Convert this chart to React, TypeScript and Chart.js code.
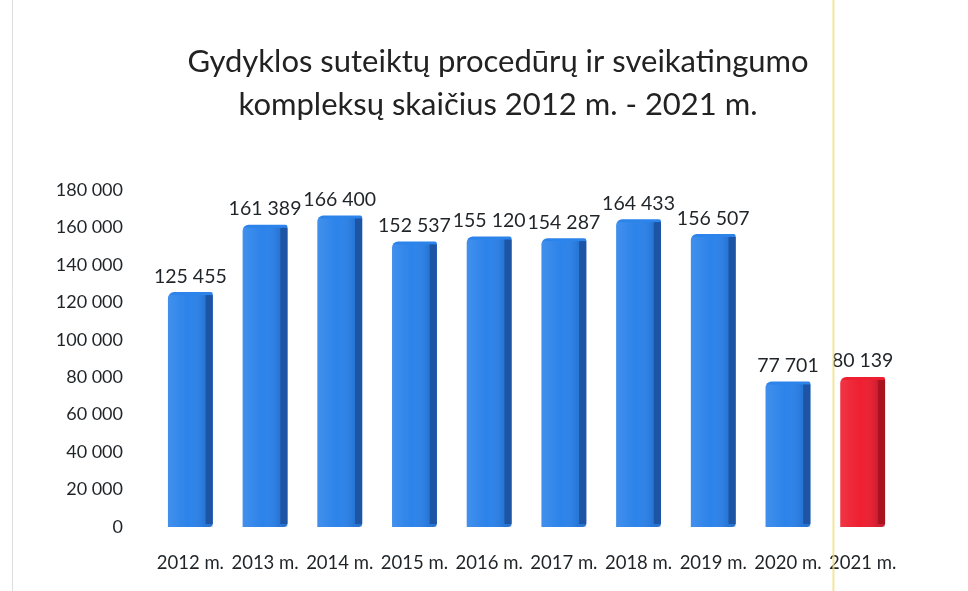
import React, { useEffect, useRef } from "react";
import { Chart, registerables } from "chart.js";

Chart.register(...registerables);

const categories = ["2012 m.", "2013 m.", "2014 m.", "2015 m.", "2016 m.", "2017 m.", "2018 m.", "2019 m.", "2020 m.", "2021 m."];
const values = [125455, 161389, 166400, 152537, 155120, 154287, 164433, 156507, 77701, 80139];
const barColors = ["#2c83ea", "#2c83ea", "#2c83ea", "#2c83ea", "#2c83ea", "#2c83ea", "#2c83ea", "#2c83ea", "#2c83ea", "#ee1f30"];
const sideColors = ["#1d4f9c", "#1d4f9c", "#1d4f9c", "#1d4f9c", "#1d4f9c", "#1d4f9c", "#1d4f9c", "#1d4f9c", "#1d4f9c", "#a3121d"];
const titleLines = ["Gydyklos suteiktų procedūrų ir sveikatingumo", "kompleksų skaičius 2012 m. - 2021 m."];
const yMin = 0;
const yMax = 180000;
const yStep = 20000;

const FONT = "Lato, 'Open Sans', sans-serif";
const TEXT = "#1f2428";

function fmt(n: number): string {
  return String(n).replace(/\B(?=(\d{3})+(?!\d))/g, " ");
}

const barDecor = {
  id: "barDecor",
  afterDatasetsDraw(chart: any) {
    const ctx = chart.ctx;
    const meta = chart.getDatasetMeta(0);
    meta.data.forEach((el: any, i: number) => {
      const { x, y, base, width } = el.getProps(["x", "y", "base", "width"], true);
      const left = x - width / 2;
      const right = x + width / 2;
      const h = base - y;
      ctx.save();
      const g = ctx.createLinearGradient(left, 0, right, 0);
      g.addColorStop(0, "rgba(255,255,255,0.10)");
      g.addColorStop(0.45, "rgba(255,255,255,0.0)");
      g.addColorStop(0.8, "rgba(0,20,60,0.10)");
      g.addColorStop(1, "rgba(0,20,60,0.18)");
      ctx.fillStyle = g;
      ctx.fillRect(left, y + 3, width, h - 3);
      const sw = width * 0.16;
      ctx.fillStyle = sideColors[i];
      ctx.globalAlpha = 0.85;
      ctx.fillRect(right - sw, y + 3, sw, h - 6);
      ctx.globalAlpha = 1;
      ctx.restore();
      ctx.save();
      ctx.font = `19.5px ${FONT}`;
      ctx.fillStyle = TEXT;
      ctx.textAlign = "center";
      ctx.textBaseline = "bottom";
      ctx.fillText(fmt(values[i]), x, y - 6);
      ctx.restore();
    });
  },
};

const titleDraw = {
  id: "titleDraw",
  afterDraw(chart: any) {
    const ctx = chart.ctx;
    ctx.save();
    ctx.font = `31px ${FONT}`;
    ctx.fillStyle = "#222222";
    ctx.textAlign = "center";
    ctx.textBaseline = "middle";
    titleLines.forEach((line, i) => {
      ctx.fillText(line, chart.width * 0.5145, 62 + i * 43);
    });
    ctx.restore();
  },
};

const decoLines = {
  id: "decoLines",
  afterDraw(chart: any) {
    const ctx = chart.ctx;
    ctx.save();
    ctx.strokeStyle = "rgba(240,222,130,0.8)";
    ctx.lineWidth = 2;
    ctx.beginPath();
    ctx.moveTo(chart.width * 0.861, 0);
    ctx.lineTo(chart.width * 0.861, chart.height);
    ctx.stroke();
    ctx.strokeStyle = "rgba(200,200,200,0.6)";
    ctx.lineWidth = 1;
    ctx.beginPath();
    ctx.moveTo(12.5, 0);
    ctx.lineTo(12.5, chart.height);
    ctx.stroke();
    ctx.restore();
  },
};

export default function App() {
  const ref = useRef<HTMLCanvasElement | null>(null);
  useEffect(() => {
    if (!ref.current) return;
    const chart = new Chart(ref.current, {
      type: "bar",
      data: {
        labels: categories,
        datasets: [
          {
            data: values,
            backgroundColor: barColors,
            borderWidth: 0,
            borderRadius: { topLeft: 6, topRight: 2, bottomLeft: 0, bottomRight: 4 },
            borderSkipped: false,
            barPercentage: 0.6,
            categoryPercentage: 1,
          },
        ],
      },
      options: {
        animation: false,
        responsive: true,
        maintainAspectRatio: false,
        layout: { padding: { left: 53, right: 68, top: 190, bottom: 18 } },
        plugins: {
          legend: { display: false },
          tooltip: { enabled: false },
          title: { display: false },
        },
        scales: {
          x: {
            afterFit: (scale: any) => {
              scale.height = 46;
            },
            grid: { display: false, drawTicks: false },
            border: { display: false },
            ticks: { color: TEXT, font: { family: FONT, size: 18.5 }, padding: 25, maxRotation: 0, autoSkip: false },
          },
          y: {
            min: yMin,
            max: yMax,
            afterFit: (scale: any) => {
              scale.width = 100;
            },
            grid: { display: false, drawTicks: false },
            border: { display: false },
            ticks: {
              stepSize: yStep,
              color: TEXT,
              font: { family: FONT, size: 18 },
              padding: 30,
              callback: (v: any) => fmt(Number(v)),
            },
          },
        },
      },
      plugins: [barDecor, titleDraw, decoLines],
    });
    return () => chart.destroy();
  }, []);
  return (
    <div style={{ position: "absolute", left: 0, top: 0, width: 968, height: 591, background: "#ffffff" }}>
      <canvas ref={ref} />
    </div>
  );
}
